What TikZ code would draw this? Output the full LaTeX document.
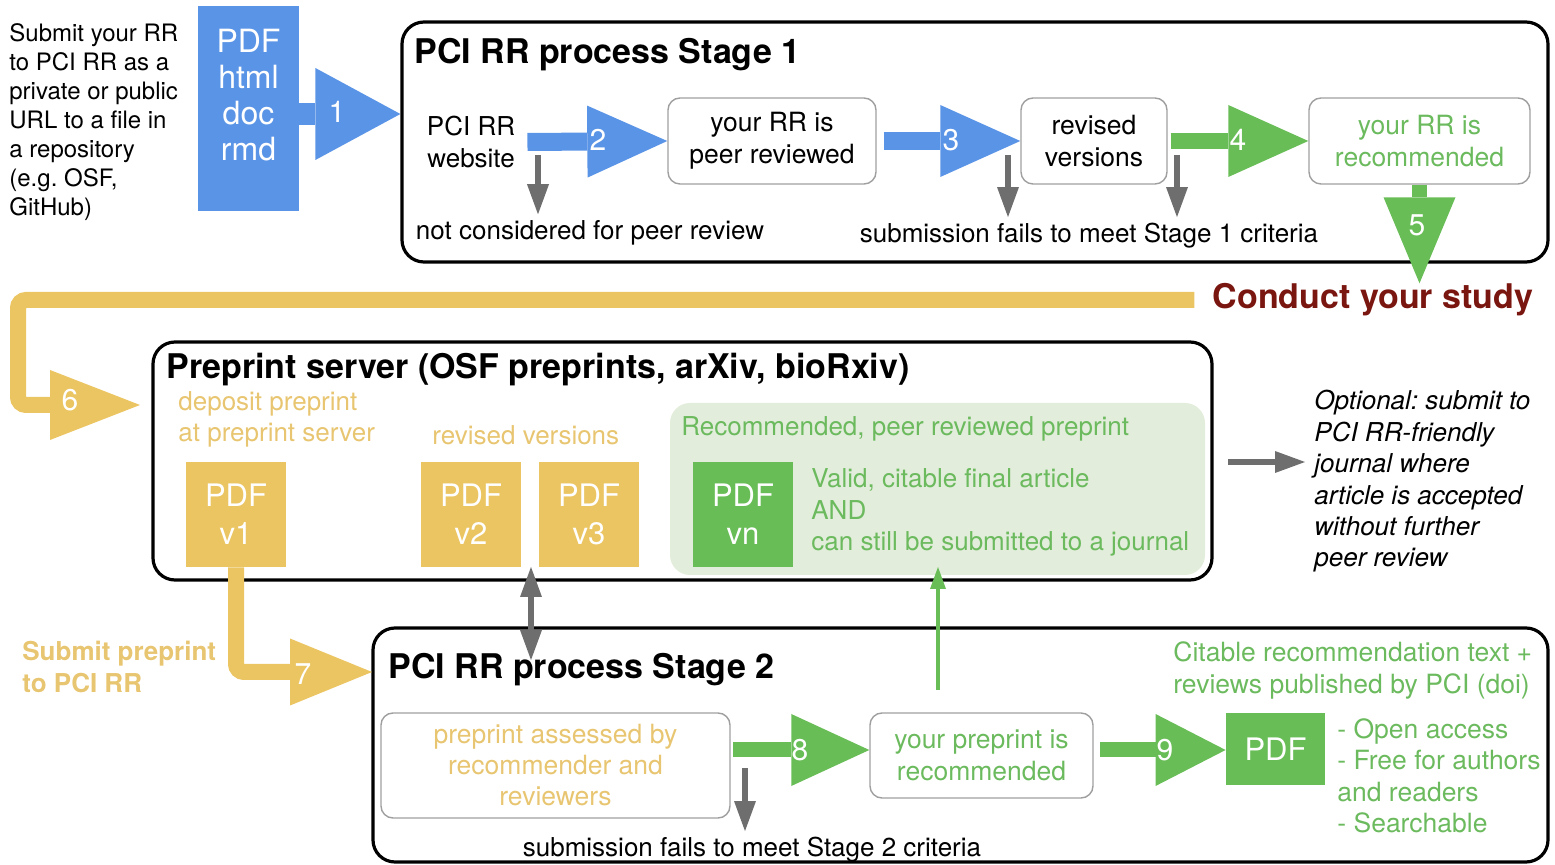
\documentclass[tikz,border=0pt]{standalone}
\usepackage{fontspec}
\setmainfont{TeX Gyre Heros}
\usetikzlibrary{arrows.meta,positioning,calc}

\definecolor{rrblue}{RGB}{90,148,230}
\definecolor{rrgreen}{RGB}{104,189,86}
\definecolor{rrgreentext}{RGB}{108,186,94}
\definecolor{rryellow}{RGB}{235,197,98}
\definecolor{rryellowtext}{RGB}{232,197,112}
\definecolor{rrpanel}{RGB}{226,237,219}
\definecolor{rrgray}{RGB}{110,110,110}
\definecolor{rrred}{RGB}{122,22,16}
\newcommand\fsz[2]{\fontsize{#1}{#2}\selectfont}
\frenchspacing

\begin{document}
\begin{tikzpicture}[x=0.5pt,y=-0.5pt]
        \tikzset{
            stagebox/.style={draw=black, line width=1.6pt, rounded corners=11pt, inner sep=0pt},
            stepbox/.style={draw=gray!75, line width=0.7pt, rounded corners=6pt,
                    align=center, inner sep=0pt, font=\fsz{13.25}{16}},
            filebox/.style={fill=#1, text=white, align=center, inner sep=0pt, font=\fsz{15.5}{19}},
            title/.style={anchor=west, inner sep=0pt, font=\bfseries\fsz{17}{19}},
            note/.style={inner sep=0pt, align=left, font=\fsz{13}{15.5}},
            num/.style={text=white, inner sep=0pt, font=\fsz{15}{15}},
            blockarrow/.style n args={4}{draw=#1, line width=#2,
                    -{Triangle[length=#3, width=#4, line width=0pt]}},
            grayarrow/.style={draw=rrgray, line width=3pt,
                    -{Triangle[length=15pt, width=11pt, line width=0pt]}}
        }
        \useasboundingbox (0,0) rectangle (1555,865);

        % submission
        \node[note, anchor=west, font=\fsz{12}{14.5}] (intro) at (9,122)
            {Submit your RR\\to PCI RR as a\\private or public\\URL to a file in\\a repository\\(e.g. OSF,\\GitHub)};
        \node[filebox=rrblue, minimum width=50.5pt, minimum height=102.5pt] (files) at (248.5,108.5) {};
        \node[text=white, align=center, inner sep=0pt, font=\fsz{16}{18}] (filelist) at (248.5,95)
            {PDF\\html\\doc\\rmd};

        % stage 1
        \node[stagebox, minimum width=573pt, minimum height=120pt] (stone) at (975,142) {};
        \node[title] (stonetitle) at (414,55) {PCI RR process Stage 1};
        \node[note, align=center, font=\fsz{13}{16}] (website) at (471,142) {PCI RR\\website};
        \node[stepbox, minimum width=104pt, minimum height=43pt] (rev) at (772,141) {your RR is\\peer reviewed};
        \node[stepbox, minimum width=73pt, minimum height=43pt] (vers) at (1094,141) {revised\\versions};
        \node[stepbox, minimum width=110.5pt, minimum height=43pt, text=rrgreentext] (recd) at (1419.5,141)
            {your RR is\\recommended};
        \node[note] (notcons) at (590,233) {not considered for peer review};
        \node[note] (failone) at (1089,236) {submission fails to meet Stage 1 criteria};
        \node[inner sep=0pt, text=rrred, font=\bfseries\fsz{17}{20}] (conduct) at (1373,300) {Conduct your study};

        \draw[blockarrow={rrblue}{11pt}{42.5pt}{46pt}] ([yshift=-2.75pt]files.east) -- ([yshift=-2.75pt]files.east -| stone.west)
            node[num] (n1) at (337,112) {1};
        \draw[blockarrow={rrblue}{9pt}{40pt}{36pt}] ([xshift=6pt]website.east) -- (rev.west)
            node[num] (n2) at (598,140) {2};
        \draw[blockarrow={rrblue}{9pt}{40pt}{36pt}] ([xshift=3.5pt]rev.east) -- (vers.west)
            node[num] (n3) at (951,140) {3};
        \draw[blockarrow={rrgreen}{8pt}{40pt}{36pt}] ([xshift=1.5pt]vers.east) -- (recd.west)
            node[num] (n4) at (1238,140) {4};
        \draw[blockarrow={rrgreen}{7.5pt}{43pt}{36pt}] (recd.south) -- (recd.south |- conduct.north)
            node[num] (n5) at (1417,225) {5};

        \coordinate (g1) at (538,155);
        \coordinate (g2) at (1008,155);
        \coordinate (g3) at (1177,155);
        \draw[grayarrow] (g1) -- ([yshift=3pt]g1 |- notcons.north);
        \draw[grayarrow] (g2) -- ([yshift=3pt]g2 |- failone.north);
        \draw[grayarrow] (g3) -- ([yshift=3pt]g3 |- failone.north);

        % preprint server
        \node[stagebox, minimum width=529.5pt, minimum height=119pt] (pre) at (682.5,461) {};
        \node[title] (pretitle) at (166,370) {Preprint server (OSF preprints, arXiv, bioRxiv)};
        \node[note, anchor=west, text=rryellowtext] (deposit) at (178,419.5) {deposit preprint\\at preprint server};
        \node[note, anchor=west, text=rryellowtext] (revv) at (432,435) {revised versions};
        \node[filebox=rryellow, minimum width=50pt, minimum height=52.5pt] (vone) at (236,514.5) {PDF\\v1};
        \node[filebox=rryellow, minimum width=50pt, minimum height=52.5pt] (vtwo) at (471,514.5) {PDF\\v2};
        \node[filebox=rryellow, minimum width=50pt, minimum height=52.5pt] (vthree) at (589,514.5) {PDF\\v3};
        \node[fill=rrpanel, rounded corners=10pt, minimum width=267.5pt, minimum height=86pt, inner sep=0pt] (panel)
            at (937.5,489) {};
        \node[note, anchor=west, text=rrgreentext] (recpre) at (681,429) {Recommended, peer reviewed preprint};
        \node[filebox=rrgreen, minimum width=50pt, minimum height=52.5pt] (vn) at (743,514.5) {PDF\\vn};
        \node[note, anchor=west, text=rrgreentext, font=\fsz{13}{15.75}] (valid) at (811,512.5)
            {Valid, citable final article\\AND\\can still be submitted to a journal};
        \node[note, anchor=west, font=\itshape\fsz{13}{15.7}] (optional) at (1314,481.5)
            {Optional: submit to\\PCI RR-friendly\\journal where\\article is accepted\\without further\\peer review};

        \coordinate (outj) at (1228,462);
        \draw[grayarrow] (outj) -- ([xshift=-4.5pt]outj -| optional.west);

        \coordinate (c6) at (18,405);
        \coordinate (in6) at (140,405);
        \draw[blockarrow={rryellow}{8pt}{45pt}{35pt}, rounded corners=4pt] ([xshift=-9pt]conduct.west) -| (c6) -- (in6)
            node[num] (n6) at (70,400) {6};

        % stage 2
        \node[stagebox, minimum width=587.5pt, minimum height=117pt] (sttwo) at (960.5,745) {};
        \node[title] (sttwotitle) at (388,670) {PCI RR process Stage 2};
        \node[note, anchor=west, text=rryellowtext, font=\bfseries\fsz{13}{16}] (subpre) at (22,667)
            {Submit preprint\\to PCI RR};
        \node[stepbox, minimum width=174.5pt, minimum height=52.5pt, text=rryellowtext, font=\fsz{13.25}{15.5}] (assess)
            at (555.5,765.5) {preprint assessed by\\recommender and\\reviewers};
        \node[stepbox, minimum width=111.5pt, minimum height=42.5pt, text=rrgreentext] (prec) at (981.5,755.5)
            {your preprint is\\recommended};
        \node[filebox=rrgreen, minimum width=49.5pt, minimum height=36pt] (pdffin) at (1275.5,749) {PDF};
        \node[note, anchor=west, text=rrgreentext, font=\fsz{13.25}{16}] (citable) at (1173,670)
            {Citable recommendation text +\\reviews published by PCI (doi)};
        \node[note, anchor=west, text=rrgreentext, font=\fsz{13.25}{15.7}] (bullets) at (1337,776)
            {- Open access\\- Free for authors\\and readers\\- Searchable};
        \node[note] (failtwo) at (752,850) {submission fails to meet Stage 2 criteria};

        \coordinate (in7) at (372,672);
        \draw[blockarrow={rryellow}{8pt}{41pt}{33.5pt}, rounded corners=4pt] (vone.south) |- (in7)
            node[num] (n7) at (303,674) {7};

        \coordinate (a8) at (733,750);
        \coordinate (a9) at (1100,750);
        \draw[blockarrow={rrgreen}{7.5pt}{39pt}{36pt}] (a8) -- (a8 -| prec.west)
            node[num] (n8) at (800,750) {8};
        \draw[blockarrow={rrgreen}{7.5pt}{35pt}{36pt}] (a9) -- (a9 -| pdffin.west)
            node[num] (n9) at (1165,750) {9};

        \coordinate (g4) at (745,768);
        \draw[grayarrow] (g4) -- ([yshift=3pt]g4 |- failtwo.north);
        \coordinate (dtop) at (531,567);
        \coordinate (dbot) at (531,660);
        \draw[draw=rrgray, line width=3pt,
            {Triangle[length=15pt, width=11pt, line width=0pt]}-{Triangle[length=15pt, width=11pt, line width=0pt]}]
            (dtop) -- (dbot);
        \coordinate (gup) at (938,690);
        \coordinate (gtip) at (938,567);
        \draw[draw=rrgreen, line width=2pt, -{Triangle[length=11pt, width=8pt, line width=0pt]}] (gup) -- (gtip);
\end{tikzpicture}
\end{document}
